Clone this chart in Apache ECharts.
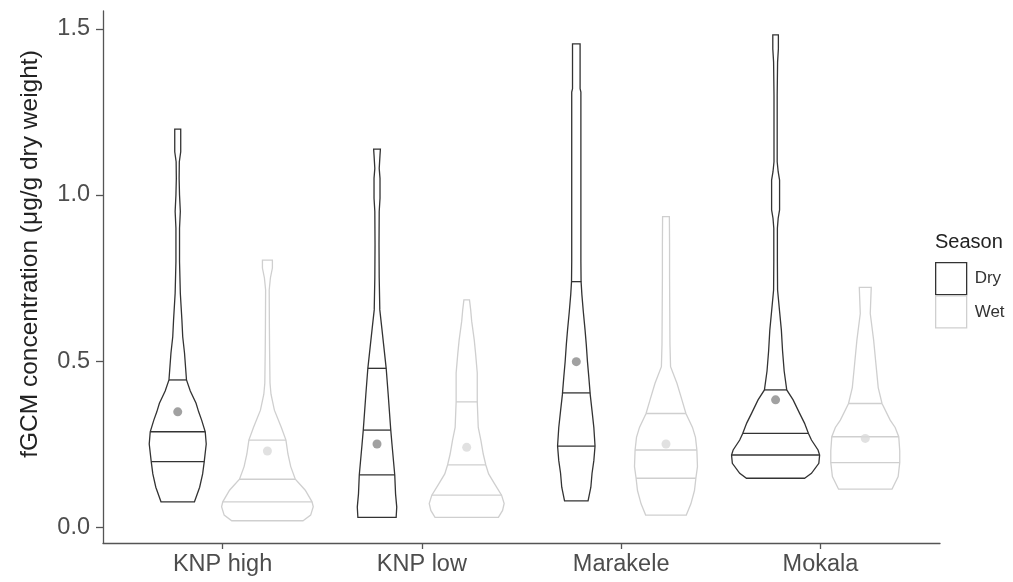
<!DOCTYPE html>
<html><head><meta charset="utf-8">
<script src="https://cdn.jsdelivr.net/npm/echarts@6/dist/echarts.min.js"></script>
<style>html,body{margin:0;padding:0;background:#fff}#c{width:1013px;height:582px}</style>
</head><body><div id="c"></div>
<script>
// ---- data ----
const categories = ['KNP high', 'KNP low', 'Marakele', 'Mokala'];
const seasons = ['Dry', 'Wet'];
const yTicks = [0, 0.5, 1.0, 1.5];

// violin outlines: [value, half-width in x-axis units]
const dryKnpHigh = [[0.076,0.084],[0.12,0.110],[0.16,0.125],[0.197,0.133],[0.25,0.143],[0.287,0.138],[0.322,0.120],[0.347,0.105],[0.373,0.092],[0.41,0.063],[0.443,0.044],[0.524,0.034],[0.573,0.025],[0.623,0.021],[0.704,0.013],[0.80,0.009],[0.90,0.009],[0.95,0.013],[1.00,0.009],[1.05,0.007],[1.10,0.008],[1.13,0.015],[1.198,0.015]];
const wetKnpHigh = [[0.019,0.179],[0.036,0.217],[0.061,0.230],[0.076,0.224],[0.111,0.190],[0.144,0.140],[0.182,0.117],[0.22,0.103],[0.262,0.093],[0.30,0.070],[0.352,0.035],[0.40,0.018],[0.434,0.013],[0.53,0.011],[0.60,0.010],[0.714,0.009],[0.75,0.015],[0.78,0.025],[0.804,0.025]];
const dryKnpLow = [[0.029,0.096],[0.06,0.099],[0.10,0.093],[0.157,0.089],[0.25,0.075],[0.292,0.069],[0.40,0.056],[0.478,0.046],[0.55,0.033],[0.60,0.024],[0.654,0.014],[0.75,0.011],[0.85,0.010],[0.95,0.011],[0.99,0.015],[1.05,0.015],[1.08,0.011],[1.12,0.015],[1.138,0.017]];
const wetKnpLow = [[0.029,0.159],[0.05,0.180],[0.071,0.188],[0.096,0.175],[0.13,0.140],[0.16,0.110],[0.187,0.096],[0.22,0.083],[0.262,0.071],[0.30,0.058],[0.377,0.053],[0.43,0.053],[0.464,0.053],[0.52,0.045],[0.563,0.038],[0.62,0.025],[0.654,0.020],[0.684,0.014]];
const dryMarakele = [[0.079,0.059],[0.12,0.073],[0.162,0.079],[0.20,0.088],[0.244,0.094],[0.30,0.088],[0.35,0.079],[0.398,0.070],[0.45,0.063],[0.498,0.056],[0.55,0.050],[0.593,0.044],[0.65,0.035],[0.70,0.028],[0.739,0.024],[0.80,0.023],[1.31,0.023],[1.32,0.019],[1.455,0.019]];
const wetMarakele = [[0.036,0.102],[0.07,0.125],[0.11,0.143],[0.147,0.150],[0.182,0.158],[0.232,0.155],[0.27,0.148],[0.30,0.133],[0.342,0.100],[0.383,0.080],[0.433,0.055],[0.483,0.023],[0.55,0.020],[0.65,0.019],[0.75,0.018],[0.85,0.018],[0.935,0.017]];
const dryMokala = [[0.147,0.146],[0.162,0.180],[0.192,0.217],[0.217,0.221],[0.232,0.213],[0.262,0.180],[0.282,0.165],[0.313,0.145],[0.343,0.120],[0.383,0.088],[0.413,0.056],[0.47,0.043],[0.53,0.035],[0.593,0.029],[0.65,0.020],[0.714,0.010],[0.80,0.009],[0.90,0.009],[0.93,0.013],[0.955,0.020],[1.045,0.020],[1.07,0.013],[1.10,0.008],[1.30,0.008],[1.40,0.010],[1.44,0.014],[1.482,0.014]];
const wetMokala = [[0.114,0.134],[0.152,0.165],[0.194,0.173],[0.23,0.173],[0.272,0.168],[0.30,0.150],[0.322,0.125],[0.372,0.084],[0.42,0.065],[0.494,0.053],[0.563,0.042],[0.643,0.025],[0.69,0.028],[0.722,0.030]];

const dryQuantiles = [[0.197,0.287,0.443],[0.157,0.292,0.478],[0.244,0.404,0.739],[0.217,0.282,0.413]];
const wetQuantiles = [[0.076,0.144,0.262],[0.096,0.187,0.377],[0.147,0.232,0.342],[0.194,0.272,0.372]];
const dryMeans = [0.347, 0.25, 0.498, 0.383];
const wetMeans = [0.229, 0.24, 0.25, 0.267];

// ---- chart ----
const dryProfiles = [dryKnpHigh, dryKnpLow, dryMarakele, dryMokala];
const wetProfiles = [wetKnpHigh, wetKnpLow, wetMarakele, wetMokala];
const DODGE = 0.225;
const DRY_COLOR = '#333333';
const WET_COLOR = '#cfcfcf';
const FONT = '"Liberation Sans", Arial, sans-serif';

function halfAt(prof, v) {
  if (v <= prof[0][0]) return prof[0][1];
  for (let i = 1; i < prof.length; i++) {
    if (v <= prof[i][0]) {
      const a = prof[i - 1], b = prof[i];
      return a[1] + (b[1] - a[1]) * (v - a[0]) / (b[0] - a[0]);
    }
  }
  return prof[prof.length - 1][1];
}

function makeRender(profiles, quantiles, offset, color) {
  return function (params, api) {
    const g = api.value(0);
    const cx = g + 1 + offset;
    const prof = profiles[g];
    const pts = [];
    for (let i = 0; i < prof.length; i++) pts.push(api.coord([cx + prof[i][1], prof[i][0]]));
    for (let i = prof.length - 1; i >= 0; i--) pts.push(api.coord([cx - prof[i][1], prof[i][0]]));
    const children = [{
      type: 'polygon', shape: { points: pts },
      style: { fill: '#ffffff', stroke: color, lineWidth: 1.3 }
    }];
    quantiles[g].forEach(function (q) {
      const h = halfAt(prof, q);
      const a = api.coord([cx - h, q]);
      const b = api.coord([cx + h, q]);
      children.push({ type: 'line', shape: { x1: a[0], y1: a[1], x2: b[0], y2: b[1] },
        style: { stroke: color, lineWidth: 1.3 } });
    });
    return { type: 'group', children: children };
  };
}

const chart = echarts.init(document.getElementById('c'), null, { renderer: 'canvas' });
chart.setOption({
  animation: false,
  backgroundColor: '#ffffff',
  grid: { left: 103, right: 73, top: 11, bottom: 39 },
  xAxis: {
    type: 'value', min: 0.4, max: 4.6,
    axisLine: { show: true, onZero: false, lineStyle: { color: '#555555', width: 1.3 } },
    axisTick: { show: true, length: 6, customValues: [1, 2, 3, 4], lineStyle: { color: '#555555', width: 1.3 } },
    axisLabel: {
      customValues: [1, 2, 3, 4],
      formatter: function (v) { return categories[Math.round(v) - 1] || ''; },
      color: '#4d4d4d', fontSize: 23.5, fontFamily: FONT, margin: 10
    },
    splitLine: { show: false }
  },
  yAxis: {
    type: 'value', min: -0.048, max: 1.554,
    axisLine: { show: true, onZero: false, lineStyle: { color: '#555555', width: 1.3 } },
    axisTick: { show: true, length: 7, customValues: yTicks, lineStyle: { color: '#555555', width: 1.3 } },
    axisLabel: {
      customValues: yTicks,
      formatter: function (v) { return v.toFixed(1); },
      color: '#4d4d4d', fontSize: 23.5, fontFamily: FONT, margin: 13
    },
    splitLine: { show: false }
  },
  legend: {
    orient: 'vertical', left: 935, top: 262, itemGap: 0, padding: 0,
    itemWidth: 31, itemHeight: 32, icon: 'rect',
    data: [
      { name: 'Dry', itemStyle: { color: '#ffffff', borderColor: DRY_COLOR, borderWidth: 1.3 } },
      { name: 'Wet', itemStyle: { color: '#ffffff', borderColor: WET_COLOR, borderWidth: 1.3 } }
    ],
    textStyle: { color: '#333333', fontSize: 17, fontFamily: FONT, padding: [0, 0, 0, 3] },
    selectedMode: false
  },
  graphic: [
    { type: 'text', x: 30, y: 254, rotation: Math.PI / 2,
      style: { text: 'fGCM concentration (μg/g dry weight)', fill: '#222222',
        font: '24.5px "Liberation Sans", Arial, sans-serif', textAlign: 'center', textVerticalAlign: 'middle' } },
    { type: 'text', left: 935, top: 232,
      style: { text: 'Season', fill: '#222222', font: '20px "Liberation Sans", Arial, sans-serif' } }
  ],
  series: [
    { name: 'Dry', type: 'custom', clip: false, data: categories.map(function (c, i) { return [i]; }),
      encode: { x: 0 }, renderItem: makeRender(dryProfiles, dryQuantiles, -DODGE, DRY_COLOR),
      itemStyle: { color: DRY_COLOR } },
    { name: 'Wet', type: 'custom', clip: false, data: categories.map(function (c, i) { return [i]; }),
      encode: { x: 0 }, renderItem: makeRender(wetProfiles, wetQuantiles, DODGE, WET_COLOR),
      itemStyle: { color: WET_COLOR } },
    { name: 'Dry mean', type: 'scatter', symbolSize: 9, z: 5,
      data: dryMeans.map(function (m, i) { return [i + 1 - DODGE, m]; }),
      itemStyle: { color: '#8a8a8a' } },
    { name: 'Wet mean', type: 'scatter', symbolSize: 9, z: 5,
      data: wetMeans.map(function (m, i) { return [i + 1 + DODGE, m]; }),
      itemStyle: { color: '#d9d9d9' } }
  ]
});
</script></body></html>
